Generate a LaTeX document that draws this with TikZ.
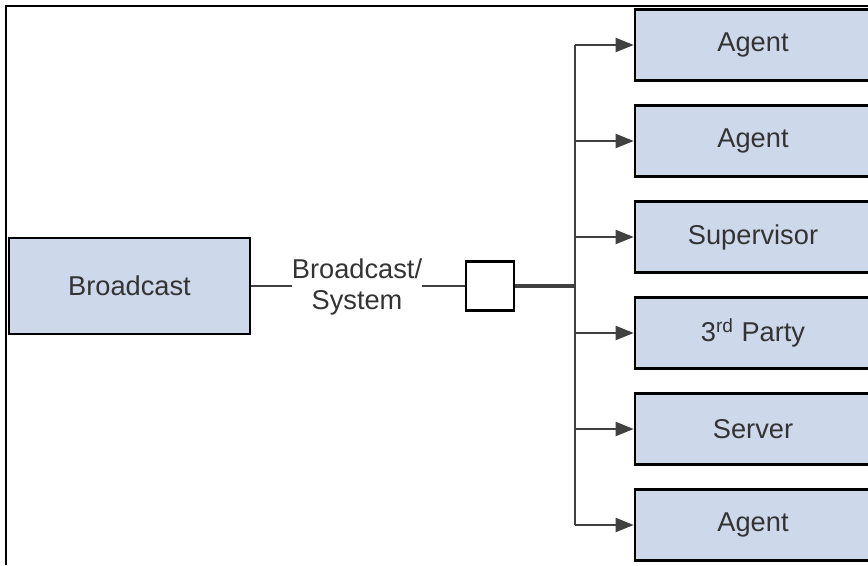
\documentclass[tikz,border=0pt]{standalone}
\usepackage{fontspec}
\setmainfont{Liberation Sans}
\usepackage{tikz}
\usetikzlibrary{arrows.meta, positioning, calc}

\definecolor{boxfill}{HTML}{CDD9EA}
\definecolor{linegray}{HTML}{404040}
\definecolor{textgray}{HTML}{333333}

\tikzset{
  unitbox/.style={draw=black, line width=1.5pt, fill=boxfill, text=textgray,
    minimum width=4.72cm, minimum height=1.42cm, inner sep=0pt,
    font=\fontsize{15.5}{18}\selectfont},
  link/.style={draw=linegray, line width=1.1pt},
  feed/.style={link, -{Triangle[length=0.36cm,width=0.28cm]}}
}

\begin{document}
\begin{tikzpicture}[x=0.02cm, y=-0.02cm]
\useasboundingbox (0,0) rectangle (868,565);
% frame
\draw[line width=1.1pt] (868,6) -- (6,6) -- (6,565);
% source side
\node[unitbox, minimum width=4.82cm, minimum height=1.92cm] (bcast) at (129.5,286) {Broadcast};
\node[text=textgray, align=center, inner sep=0pt,
      font=\fontsize{15.5}{18}\selectfont] (lbl) at (357,287) {Broadcast/\\System};
\node[draw=black, line width=1.5pt, fill=white, minimum width=0.96cm,
      minimum height=0.98cm, inner sep=0pt] (hub) at (490,286) {};
\draw[link] (bcast.east) -- (bcast.east -| lbl.west);
\draw[link] (hub.west -| lbl.east) -- (hub.west);
% receivers
\node[unitbox] (agentA) at (753,45) {Agent};
\node[unitbox] (agentB) at (753,141) {Agent};
\node[unitbox] (super) at (753,237) {Supervisor};
\node[unitbox] (party) at (753,333) {3\textsuperscript{rd} Party};
\node[unitbox] (server) at (753,429) {Server};
\node[unitbox] (agentC) at (753,525) {Agent};
% trunk
\coordinate (junc) at (575,286);
\draw[link, line width=2.2pt] (hub.east) -- (junc);
\draw[link] (agentA.west -| junc) -- (agentC.west -| junc);
\draw[feed] (agentA.west -| junc) -- (agentA.west);
\draw[feed] (agentB.west -| junc) -- (agentB.west);
\draw[feed] (super.west -| junc) -- (super.west);
\draw[feed] (party.west -| junc) -- (party.west);
\draw[feed] (server.west -| junc) -- (server.west);
\draw[feed] (agentC.west -| junc) -- (agentC.west);
\end{tikzpicture}
\end{document}
